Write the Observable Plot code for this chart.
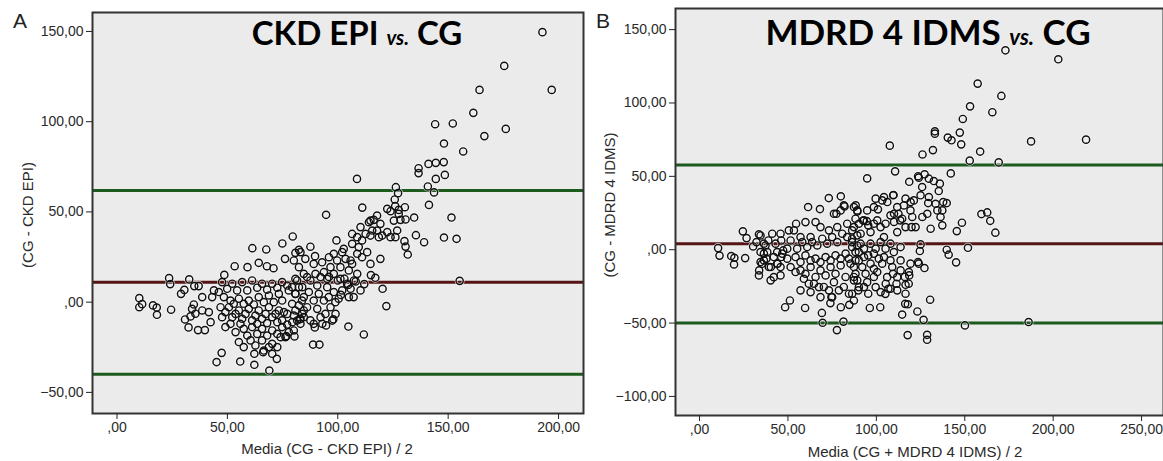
<!DOCTYPE html>
<html>
<head>
<meta charset="utf-8">
<script src="https://cdn.jsdelivr.net/npm/d3@7"></script>
<script src="https://cdn.jsdelivr.net/npm/@observablehq/plot@0.6"></script>
<style>
  html, body { margin: 0; padding: 0; background: #fff; }
  #wrap { position: relative; width: 1163px; height: 461px; overflow: hidden; }
  #wrap > svg, #wrap > div { position: absolute; top: 0; }
  #panelA { left: 0; }
  #panelB { left: 590px; }
  #overlay { left: 0; top: 0; pointer-events: none; }
</style>
</head>
<body>
<div id="wrap">
  <div id="panelA"></div>
  <div id="panelB"></div>
  <svg id="overlay" width="1163" height="461"></svg>
</div>
<script>
// ---------- DATA ----------
// Panel A: x = Media (CG - CKD EPI)/2, y = CG - CKD EPI
const pointsA = [
  [192.7,149.6],[175.4,130.9],[196.9,117.6],[164.2,117.6],[161.4,104.9],[144.1,98.6],[152.1,99.0],[176.1,96.0],[166.4,92.0],[148.1,87.9],
  [156.8,83.5],[136.6,74.2],[136.6,71.5],[141.1,76.6],[144.4,77.2],[148.0,77.6],[148.5,70.5],[144.4,68.3],[108.7,68.3],[140.8,64.1],
  [143.6,60.8],[126.3,63.7],[127.3,60.4],[141.3,53.9],[125.8,56.9],[126.0,53.2],[111.1,52.4],[130.4,52.6],[94.7,48.4],[134.6,46.9],
  [151.5,46.9],[148.1,35.8],[153.8,35.1],[135.4,37.1],[139.1,33.2],[155.2,11.8],[122.0,-2.2],[120.3,7.4],[104.8,-13.5],[111.8,-17.9],
  [88.8,-23.5],[91.7,-23.5],[99.4,34.2],[79.6,36.4],[74.9,32.5],[61.3,29.9],[67.6,29.2],[87.6,30.7],[89.7,25.5],[76.1,24.0],
  [53.3,19.9],[59.1,19.4],[64.2,21.8],[67.9,19.9],[70.9,18.8],[48.6,15.1],[23.6,13.3],[24.1,10.0],[32.7,12.6],[29.0,4.6],
  [30.5,6.8],[37.0,8.9],[35.0,8.9],[10.1,2.2],[10.1,-2.8],[11.4,-1.1],[16.3,-1.8],[18.0,-3.0],[18.1,-7.0],[24.5,-4.2],
  [30.8,-9.6],[32.4,-14.0],[36.7,-15.5],[39.8,-15.5],[42.4,-11.1],[45.1,-33.2],[47.4,-28.1],[55.8,-32.9],[62.2,-34.7],[62.2,-28.6],
  [69.0,-37.9],[72.4,-31.4],[66.2,-27.7],[80.4,-19.0],[76.7,-18.8],[117.0,13.5],
  [38.6,2.8],[43.9,6.5],[46.1,5.6],[48.4,2.8],[43.1,2.8],[34.8,-1.3],[34.0,-3.7],[35.5,-6.4],[33.3,-7.9],[38.6,-4.6],
  [41.6,-5.5],[82.4,29.0],[80.8,27.3],[47.6,11.1],[52.2,10.2],[56.7,11.1],[61.2,12.0],[65.7,10.2],[70.3,10.2],[74.8,11.1],
  [80.8,12.9],[54.4,6.5],[51.4,0.9],[55.2,1.9],[59.7,0.9],[64.2,2.8],[68.8,3.7],[73.3,4.6],[77.8,6.5],[82.4,8.3],
  [46.9,-2.8],[50.7,-2.8],[55.2,-4.6],[59.7,-3.7],[64.2,-4.6],[68.8,-2.8],[73.3,-4.6],[77.1,-6.5],[80.8,-4.6],[83.9,-6.5],
  [47.6,-8.3],[52.2,-8.3],[56.7,-9.2],[61.2,-10.1],[65.7,-9.2],[70.3,-8.3],[74.8,-10.1],[79.4,-11.1],[83.1,-12.0],
  [49.1,-13.8],[53.7,-16.6],[57.4,-14.8],[61.2,-13.8],[65.7,-14.8],[70.3,-15.7],[74.8,-13.8],[77.8,-16.6],
  [55.2,-22.1],[60.5,-21.2],[65.7,-21.2],[70.3,-23.1],[74.1,-19.4],[66.5,-26.8],[70.3,-28.6],
  [122.4,51.7],[123.9,50.4],[127.6,51.1],[130.7,45.8],[127.6,48.9],[128.4,45.6],[125.4,45.2],[126.9,39.7],[130.2,33.8],[130.7,30.8],
  [131.7,26.4],[114.8,45.2],[117.8,48.0],[116.3,45.6],[119.3,43.4],[110.3,41.6],[114.1,44.3],[115.6,39.7],[117.8,39.7],[118.6,36.0],
  [120.1,36.9],[122.4,38.8],[123.9,36.0],[126.1,36.0],[112.6,37.8],[114.8,36.9],[111.0,34.2],[108.8,36.0],[106.5,37.8],[109.5,30.5],
  [113.3,27.7],[119.3,24.0],[102.7,29.5],[106.5,32.3],[108.8,26.8],[111.0,24.9],[114.8,21.2],[103.5,24.0],[106.5,21.2],[101.2,19.4],
  [105.0,17.6],[108.8,15.7],[110.3,6.5],[96.7,19.4],[99.7,23.1],[93.7,16.6],[92.2,13.9],[87.6,12.0],[90.7,9.2],[95.2,8.3],
  [98.2,5.6],[102.0,6.5],[105.8,7.4],[80.1,23.1],[82.4,19.4],[84.6,15.7],[86.1,13.9],[81.6,12.0],[79.3,8.3],[80.8,4.6],
  [84.6,2.8],[89.1,0.9],[93.7,0.9],[96.7,-2.8],[99.0,-6.5],[92.2,-8.3],[87.6,-10.1],[80.1,-15.7],
  [98.0,-9.5],[93.0,-12.0],[84.6,-4.6],[82.9,-9.5],[89.6,-14.0],[98.9,0.0],[101.4,4.0],[104.7,9.5],[108.1,11.5],[107.2,2.8],
  [112.0,10.0],[115.0,15.0],[100.0,12.0],[96.0,14.0],[103.0,13.0],
  [49.9,7.4],[59.0,6.5],[63.5,8.0],[68.0,6.9],[72.6,8.0],[77.1,9.2],[80.8,4.6],[83.8,0.9],[79.3,-0.9],[74.8,0.9],
  [71.0,0.0],[66.5,0.0],[62.0,-1.3],[57.4,-0.9],[52.9,-0.9],[49.1,-5.5],[53.7,-6.5],[58.2,-6.5],[62.7,-7.4],[67.3,-6.5],
  [71.8,-6.5],[75.6,-5.5],[80.1,-7.4],[83.1,-9.2],[51.4,-12.0],[55.9,-12.0],[63.5,-12.0],[68.0,-11.6],[72.6,-11.1],[77.1,-12.4],
  [59.0,-18.5],[63.5,-17.6],[68.0,-18.5],[72.6,-17.6],[76.3,-19.4],[57.4,-24.9],[62.7,-24.0],[68.8,-24.9],[72.6,-24.9],
  [83.1,27.7],[85.3,24.0],[89.1,21.2],[92.9,22.1],[96.0,24.9],[98.2,26.8],[102.0,27.7],[105.8,23.1],[98.2,15.7],[101.2,12.9],
  [104.2,10.2],[107.3,12.0],[95.2,12.9],[89.9,15.7],[83.9,8.3],[86.9,5.6],[91.4,4.6],[95.9,2.8],[100.4,1.9],[105.0,2.8],
  [82.4,-1.8],[86.1,-2.8],[90.7,-3.7],[94.4,-6.5],[84.6,-8.3],[89.1,-12.0],[81.6,-10.2],[94.7,-12.9],[97.5,-10.2]
];
// Panel B: x = Media (CG + MDRD 4 IDMS)/2, y = CG - MDRD 4 IDMS
const pointsB = [
  [173.0,135.9],[202.9,129.8],[157.3,113.2],[170.7,104.8],[153.0,97.7],[165.6,93.7],[148.9,89.1],[133.1,80.7],[133.1,79.1],[147.2,79.8],
  [140.4,76.4],[142.5,74.6],[187.5,73.8],[218.6,75.0],[148.0,71.8],[107.6,70.9],[132.0,67.9],[126.1,64.9],[158.7,66.9],[152.8,60.7],
  [169.2,59.5],[110.6,53.4],[142.1,52.0],[94.8,48.6],[118.6,46.3],[123.6,50.1],
  [159.4,24.3],[162.7,25.4],[164.4,19.7],[167.3,11.6],[148.4,18.4],[145.5,12.7],[151.8,1.3],[139.8,0.0],[140.9,-3.4],[145.1,-8.6],
  [124.6,-0.9],[123.6,-8.4],[127.2,-12.5],[130.4,-34.1],[123.2,-42.1],[114.6,-44.2],[116.3,-36.9],[117.8,-37.2],[126.7,-47.8],[117.7,-58.2],
  [128.7,-58.0],[128.7,-61.4],[150.1,-51.6],[186.1,-49.3],[81.4,-49.0],[69.6,-49.8],[77.7,-54.8],[69.2,-43.1],[59.7,-39.7],[48.4,-39.2],
  [51.1,-34.6],[79.9,-39.2],[84.7,-37.6],[96.3,-39.7],[102.2,-39.2],[105.1,-30.1],[106.8,-26.6],[111.4,-23.2],[118.3,-23.2],[118.6,-17.5],
  [74.0,-36.4],[74.6,-32.3],
  [10.5,1.1],[11.3,-4.0],[17.9,-4.3],[19.5,-10.0],[19.7,-5.5],[25.8,-5.7],[24.5,12.5],[26.6,7.9],[30.3,2.2],[32.2,5.2],
  [34.5,9.7],[38.9,6.3],[36.4,-2.7],[33.7,-14.1],[35.3,-9.6],[37.8,-6.1],[40.3,-11.8],[42.0,-18.7],[44.1,-9.6],[46.2,-5.0],
  [47.3,-0.5],[46.2,6.3],[54.6,17.7],[61.4,29.1],[68.1,27.7],[73.1,35.2],[79.9,36.4],[77.4,24.5],[82.0,29.5],[88.3,30.2],
  [89.3,26.1],[92.5,19.9],[94.6,19.5],[100.9,27.5],[106.2,32.5],[109.7,37.3],[112.5,24.5],[119.4,32.5],[129.3,31.8],[134.5,26.8],
  [139.8,31.8],[119.9,15.4],[113.5,20.0],
  [33.6,10.5],[34.5,-1.6],[36.4,-7.3],[33.6,-17.5],[40.2,-20.9],[45.8,-17.5],[43.9,-9.5],[42.0,-5.0],[46.8,-2.7],[50.5,13.2],
  [59.9,18.8],[65.6,18.8],[68.4,15.4],[62.8,8.6],[57.1,8.6],[51.5,6.3],[49.6,0.7],[55.2,0.7],[60.9,1.8],[66.6,2.9],
  [72.2,4.1],[77.9,5.2],[83.5,8.6],[89.2,9.8],[73.2,13.2],[77.9,15.4],[83.5,17.7],[86.3,13.2],[76.0,24.5],[79.8,26.8],
  [81.6,30.2],[87.3,29.1],[54.3,-5.0],[59.9,-3.9],[65.6,-6.1],[71.3,-5.0],[76.9,-3.9],[82.6,-2.7],[88.2,-1.6],[51.5,-11.8],
  [57.1,-14.1],[62.8,-11.8],[68.4,-14.1],[74.1,-11.8],[79.8,-10.7],[85.4,-9.5],[59.0,-19.8],[64.7,-23.2],[70.3,-25.4],[76.0,-22.1],
  [81.6,-25.4],[87.3,-20.9],[57.1,-27.7],[62.8,-28.9],[68.4,-32.3],[75.0,-32.3],
  [124.0,49.1],[127.3,51.4],[129.7,48.4],[132.5,46.8],[135.9,45.0],[125.9,42.7],[135.3,40.0],[137.8,32.5],[116.5,34.8],[121.2,33.6],
  [125.0,37.1],[129.7,35.9],[133.5,31.3],[137.3,26.8],[136.3,22.3],[137.3,16.6],[130.7,14.3],[126.0,22.3],[128.8,24.5],[119.3,26.8],
  [115.6,30.2],[110.0,24.5],[110.0,18.9],[114.6,21.1],[120.3,22.3],[122.2,15.4],[116.5,15.4],[111.8,12.0],[104.3,8.6],[98.6,29.1],
  [103.3,33.6],[109.5,37.1],[104.3,35.9],[99.6,34.8],[94.8,26.8],[89.2,26.8],[88.2,21.1],[93.0,20.0],[98.6,17.7],[102.4,15.4],
  [96.7,12.0],[91.1,10.9],[86.3,7.5],[91.1,4.1],[96.7,4.1],[102.4,5.2],[108.0,4.1],[113.7,1.8],[125.0,3.6],[124.0,-9.5],
  [119.3,-9.5],[118.4,-15.2],[116.5,-23.9],[113.7,-14.1],[111.8,-18.7],[109.0,-11.8],[104.3,-5.0],[98.6,-2.7],[93.0,-5.0],[88.2,-7.3],
  [96.7,-9.5],[103.3,-9.5],[106.1,-18.7],[100.5,-15.2],[93.9,-16.4],[89.2,-20.9],[94.8,-22.1],[105.3,-23.2],[108.0,-26.6],[89.8,-27.7],
  [95.4,-30.0],
  [37.3,2.9],[43.0,4.1],[45.8,10.9],[53.4,13.2],[58.1,5.2],[63.7,5.2],[69.4,7.5],[75.0,8.6],[80.7,10.9],[86.3,5.2],
  [89.2,2.9],[38.3,-1.6],[43.9,-1.6],[49.6,-6.1],[57.1,-8.4],[62.8,-7.3],[68.4,-8.4],[74.1,-7.3],[79.8,-6.1],[84.5,-6.1],
  [90.1,-7.3],[45.8,-11.8],[54.3,-15.2],[59.9,-16.4],[65.6,-18.6],[71.3,-17.5],[76.9,-16.4],[82.6,-18.6],[88.2,-16.4],[61.8,-23.2],
  [67.5,-25.5],[73.2,-27.7],[78.8,-27.7],[84.5,-30.0],[90.1,-25.5],[36.4,4.1],[41.1,10.9],[34.5,-8.4],[39.2,-11.8],
  [87.3,15.4],[90.1,17.7],[95.4,16.6],[100.5,20.0],[105.2,17.7],[108.0,23.4],[111.8,29.1],[86.3,1.8],[93.0,0.7],[99.6,0.7],
  [105.2,0.7],[109.9,-1.6],[90.1,-1.6],[95.4,-3.9],[101.4,-6.1],[108.0,-7.3],[113.7,-7.3],[87.3,-11.8],[92.0,-11.8],[98.6,-13.0],
  [109.4,-16.4],[116.1,-18.6],[87.3,-18.6],[98.6,-18.6],[93.0,-25.5],[99.6,-25.5],[102.4,-28.9],[86.3,-30.0],[87.3,-34.6],[111.8,-27.7],
  [116.5,-30.0]
];
// Reference lines (mean difference and limits of agreement)
const linesA = [ {value: 61.8, kind: "limit"}, {value: 11.0, kind: "mean"}, {value: -40.0, kind: "limit"} ];
const linesB = [ {value: 57.8, kind: "limit"}, {value: 4.0, kind: "mean"}, {value: -50.0, kind: "limit"} ];
const xTicksA = [0, 50, 100, 150, 200];
const yTicksA = [-50, 0, 50, 100, 150];
const xTicksB = [0, 50, 100, 150, 200, 250];
const yTicksB = [-100, -50, 0, 50, 100, 150];
const titleA = ["CKD EPI ", "vs.", " CG"];
const titleB = ["MDRD 4 IDMS ", "vs.", " CG"];
const xLabelA = "Media (CG - CKD EPI) / 2";
const yLabelA = "(CG - CKD EPI)";
const xLabelB = "Media (CG + MDRD 4 IDMS) / 2";
const yLabelB = "(CG - MDRD 4 IDMS)";

// ---------- DRAWING ----------
const fmt = d => (d < 0 ? "\u2212" : "") + (d === 0 ? ",00" : Math.abs(d).toFixed(2).replace(".", ","));
const lineColor = {limit: "#1d5a1d", mean: "#551515"};

function panel(points, lines, xd, yd, xt, yt, opts) {
  return Plot.plot({
    width: opts.width, height: 461,
    marginLeft: opts.ml, marginRight: opts.mr, marginTop: opts.mt, marginBottom: opts.mb,
    x: {domain: xd},
    y: {domain: yd},
    style: {fontFamily: "'Liberation Sans', Arial, sans-serif", fontSize: "14px", color: "#2a2a2a", background: "transparent", overflow: "visible"},
    marks: [
      Plot.frame({fill: "#ebebeb", stroke: null}),
      Plot.ruleY(lines, {y: "value", stroke: d => lineColor[d.kind], strokeWidth: 3}),
      Plot.dot(points, {x: d => d[0], y: d => d[1], r: 3.6, stroke: "#fff", strokeWidth: 2.8, strokeOpacity: 0.75}),
      Plot.dot(points, {x: d => d[0], y: d => d[1], r: 3.6, stroke: "#111", strokeWidth: 1.45}),
      Plot.frame({stroke: "#333", strokeWidth: 2}),
      Plot.axisX({ticks: xt, tickFormat: fmt, tickSize: 6, tickPadding: 3, label: null, stroke: "#222"}),
      Plot.axisY({ticks: yt, tickFormat: fmt, tickSize: 6, tickPadding: 3, label: null, stroke: "#222"})
    ]
  });
}

document.getElementById("panelA").appendChild(
  panel(pointsA, linesA, [-11.1, 211.3], [-61.7, 160.5], xTicksA, yTicksA, {width: 590, ml: 92, mr: 7, mt: 12, mb: 48})
);
document.getElementById("panelB").appendChild(
  panel(pointsB, linesB, [-13.6, 262.4], [-113, 164.4], xTicksB, yTicksB, {width: 573, ml: 85, mr: 0, mt: 8, mb: 46})
);

// overlay texts
const ov = d3.select("#overlay");
const sans = "'Liberation Sans', Arial, sans-serif";
function title(parts, cx, baseline, size) {
  const t = ov.append("text").attr("x", cx).attr("y", baseline).attr("text-anchor", "middle")
    .attr("font-family", "Lato, 'Open Sans', sans-serif").attr("font-weight", 700).attr("font-size", size).attr("fill", "#000");
  t.append("tspan").text(parts[0]);
  t.append("tspan").text(parts[1]).attr("font-style", "italic").attr("font-size", Math.round(size * 0.62));
  t.append("tspan").text(parts[2]);
}
title(titleA, 357, 45, 33);
title(titleB, 928, 45, 35);
ov.append("text").attr("x", 20).attr("y", 28).attr("text-anchor", "middle").attr("font-family", sans).attr("font-size", 21).attr("fill", "#222").text("A");
ov.append("text").attr("x", 603).attr("y", 28).attr("text-anchor", "middle").attr("font-family", sans).attr("font-size", 21).attr("fill", "#222").text("B");
ov.append("text").attr("x", 327).attr("y", 454).attr("text-anchor", "middle").attr("font-family", sans).attr("font-size", 15).attr("fill", "#2a2a2a").text(xLabelA);
ov.append("text").attr("x", 915).attr("y", 457).attr("text-anchor", "middle").attr("font-family", sans).attr("font-size", 15).attr("fill", "#2a2a2a").text(xLabelB);
ov.append("text").attr("transform", "translate(33,215) rotate(-90)").attr("text-anchor", "middle").attr("font-family", sans).attr("font-size", 15).attr("fill", "#2a2a2a").text(yLabelA);
ov.append("text").attr("transform", "translate(615,205) rotate(-90)").attr("text-anchor", "middle").attr("font-family", sans).attr("font-size", 15).attr("fill", "#2a2a2a").text(yLabelB);
</script>
</body>
</html>
